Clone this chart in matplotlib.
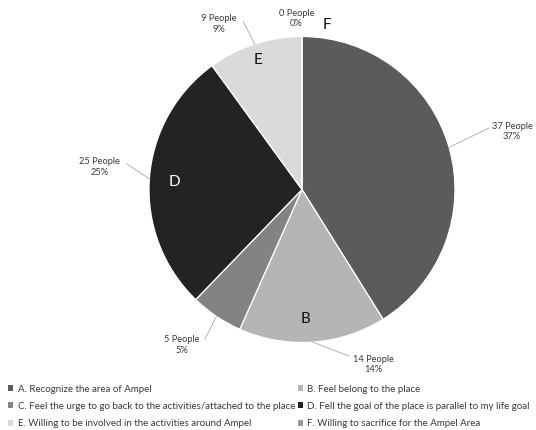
import numpy as np
import matplotlib
matplotlib.use("Agg")
import matplotlib.pyplot as plt

plt.rcParams['font.family'] = ['Lato', 'DejaVu Sans']

# Survey responses (number of people per statement)
letters = ["A", "B", "C", "D", "E", "F"]
descriptions = [
    "A. Recognize the area of Ampel",
    "B. Feel belong to the place",
    "C. Feel the urge to go back to the activities/attached to the place",
    "D. Fell the goal of the place is parallel to my life goal",
    "E. Willing to be involved in the activities around Ampel",
    "F. Willing to sacrifice for the Ampel Area",
]
people = [37, 14, 5, 25, 9, 0]
respondents = 100

colors = ["#5b5b5b", "#b5b5b5", "#838383", "#232323", "#dadada", "#9a9a9a"]

# Layout of the outside value labels and the leader lines (pie radius units)
label_pos = [(1.373, 0.379), (0.464, -1.144), (-0.788, -1.016),
             (-1.324, 0.147), (-0.542, 1.082), (-0.036, 1.118)]
leader_end = [(1.222, 0.402), (0.307, -1.088), (-0.634, -0.977),
              (-1.144, 0.167), (-0.386, 1.101), None]
# Category letters drawn on the slices
letter_pos = {"B": (0.02, -0.846), "D": (-0.837, 0.049),
              "E": (-0.288, 0.846), "F": (0.163, 1.075)}
letter_color = {"B": "#111111", "D": "#ffffff", "E": "#111111", "F": "#111111"}

W, H = 536, 430
fig = plt.figure(figsize=(W / 100, H / 100), dpi=100)
cx, cy, r = 302, 189.5, 153
ax = fig.add_axes([(cx - r) / W, (H - cy - r) / H, 2 * r / W, 2 * r / H])

wedges, _ = ax.pie(people, colors=colors, startangle=90, counterclock=False,
                   radius=1, wedgeprops=dict(edgecolor="white", linewidth=0.9))
ax.set_xlim(-1, 1)
ax.set_ylim(-1, 1)
ax.set_aspect("equal")
ax.axis("off")

total = sum(people)
start = 0.0
for i, n in enumerate(people):
    mid = (start + n / 2) / total * 2 * np.pi
    start += n
    edge = (np.sin(mid), np.cos(mid))
    pct = round(n / respondents * 100)
    lx, ly = label_pos[i]
    ax.text(lx, ly, f"{n} People\n{pct}%", ha="center", va="center",
            fontsize=6.7, color="#3a3a3a", linespacing=1.25)
    if leader_end[i] is not None:
        ex, ey = leader_end[i]
        ax.plot([edge[0], ex], [edge[1], ey], color="#a8a8a8", lw=0.6,
                clip_on=False)

for key, (x, y) in letter_pos.items():
    ax.text(x, y, key, ha="center", va="center", fontsize=11,
            color=letter_color[key])

order = [0, 2, 4, 1, 3, 5]
leg = fig.legend([wedges[i] for i in order], [descriptions[i] for i in order],
                 loc="upper left", bbox_to_anchor=(8 / W, 1 - 384.5 / H),
                 ncol=2, frameon=False, fontsize=7.0, handlelength=0.55,
                 handleheight=0.55, handletextpad=0.45, columnspacing=0.25,
                 labelspacing=0.86, borderaxespad=0, borderpad=0)
for t in leg.get_texts():
    t.set_color("#3a3a3a")
for h in leg.legend_handles:
    h.set_edgecolor("none")

fig.savefig("out.png", dpi=100)
